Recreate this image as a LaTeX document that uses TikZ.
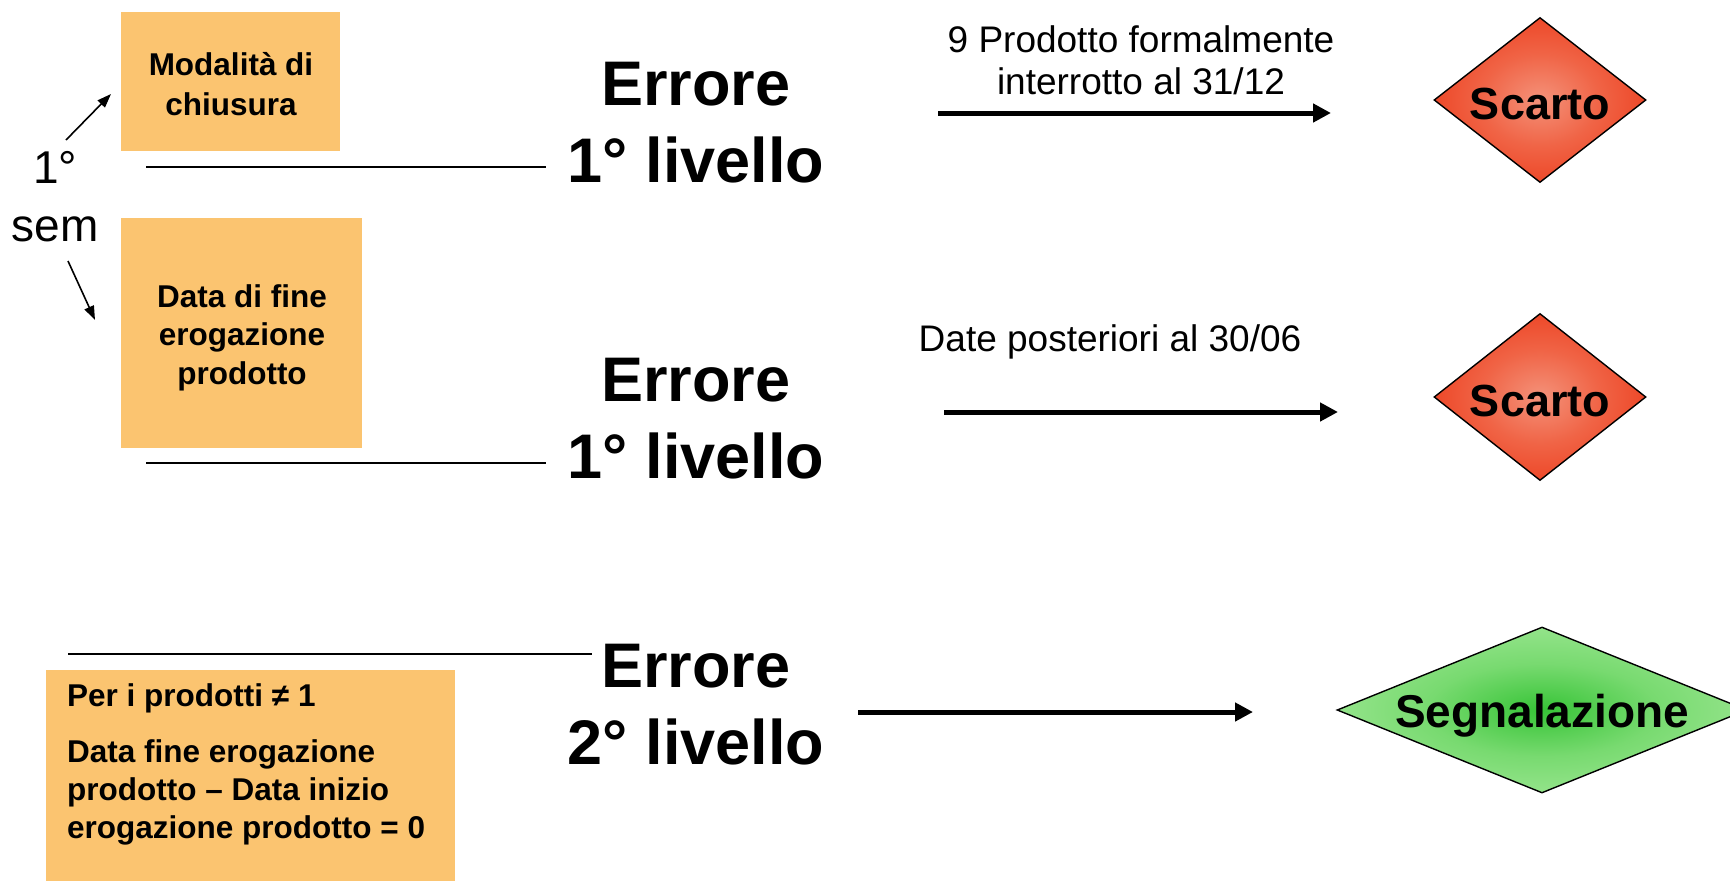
\documentclass[tikz,border=0pt]{standalone}
\usepackage{fontspec}
\setmainfont{Liberation Sans}
\usetikzlibrary{shapes.geometric,arrows.meta}
\definecolor{boxfill}{RGB}{251,196,112}
\definecolor{redin}{RGB}{244,146,122}
\definecolor{redmid}{RGB}{240,100,70}
\definecolor{redout}{RGB}{236,60,28}
\definecolor{grin}{RGB}{55,196,55}
\definecolor{grmid}{RGB}{120,218,112}
\definecolor{grout}{RGB}{155,230,145}
\pgfdeclareradialshading{redglow}{\pgfpoint{0bp}{0bp}}{color(0bp)=(redin); color(14bp)=(redmid); color(30bp)=(redout); color(50bp)=(redout)}
\pgfdeclareradialshading{greenglow}{\pgfpoint{0bp}{0bp}}{color(0bp)=(grin); color(14bp)=(grmid); color(28bp)=(grout); color(50bp)=(grout)}
\begin{document}
\begin{tikzpicture}[x=1pt,y=-1pt,
  notebox/.style={fill=boxfill, draw=none, inner sep=0pt},
  notetext/.style={inner sep=0pt, align=center, font=\bfseries\fontsize{31.5}{40}\selectfont},
  errtext/.style={inner sep=0pt, align=center, font=\bfseries\fontsize{63}{77}\selectfont},
  lbltext/.style={inner sep=0pt, align=center, font=\fontsize{37}{42}\selectfont},
  thinline/.style={line width=2pt},
  thinarrow/.style={line width=1.6pt, -{Triangle[length=14pt,width=10pt]}},
  fatarrow/.style={line width=5pt, -{Triangle[length=18pt,width=18pt]}},
  dia/.style={diamond, draw=black, line width=1.4pt, inner sep=0pt},
  diatext/.style={inner sep=0pt, font=\bfseries\fontsize{45}{50}\selectfont}
]
\useasboundingbox (0,0) rectangle (1730,881);
\clip (0,0) rectangle (1730,881);

% left boxes
\node[notebox, minimum width=219pt, minimum height=139pt] (b1) at (230.5,81.5) {};
\node[notetext] (b1t) at (231,84) {Modalità di\\chiusura};
\node[notebox, minimum width=241pt, minimum height=230pt] (b2) at (241.5,333) {};
\node[notetext, font=\bfseries\fontsize{31.5}{38.5}\selectfont] (b2t) at (242,337.5) {Data di fine\\erogazione\\prodotto};
\node[notebox, minimum width=409pt, minimum height=230pt] (b3) at (250.5,785) {};
\node[inner sep=0pt, anchor=north west, align=left, font=\bfseries\fontsize{31.5}{38}\selectfont] (b3t) at (67,683)
  {Per i prodotti ≠ 1\\[18pt]Data fine erogazione\\prodotto – Data inizio\\erogazione prodotto = 0};

% 1 sem
\node[inner sep=0pt, align=center, font=\fontsize{46}{58}\selectfont] (sem) at (55,197) {1°\\sem};
\coordinate (a1s) at (66,140);
\coordinate (a1e) at (111,94);
\coordinate (a2s) at (68,261);
\coordinate (a2e) at (95,320);
\draw[thinarrow] (a1s) -- (a1e);
\draw[thinarrow] (a2s) -- (a2e);

% thin lines
\coordinate (l1s) at (146,167); \coordinate (l1e) at (546,167);
\coordinate (l2s) at (146,463); \coordinate (l2e) at (546,463);
\coordinate (l3s) at (68,654);  \coordinate (l3e) at (592,654);
\draw[thinline] (l1s) -- (l1e);
\draw[thinline] (l2s) -- (l2e);
\draw[thinline] (l3s) -- (l3e);

% error texts
\node[errtext] (e1) at (696,123) {Errore\\1° livello};
\node[errtext] (e2) at (696,419) {Errore\\1° livello};
\node[errtext] (e3) at (696,705) {Errore\\2° livello};

% arrows and labels
\coordinate (f1s) at (938,113); \coordinate (f1e) at (1331,113);
\coordinate (f2s) at (944,412); \coordinate (f2e) at (1338,412);
\coordinate (f3s) at (858,712); \coordinate (f3e) at (1253,712);
\draw[fatarrow] (f1s) -- (f1e);
\draw[fatarrow] (f2s) -- (f2e);
\draw[fatarrow] (f3s) -- (f3e);
\node[lbltext] (t1) at (1141,60) {9 Prodotto formalmente\\interrotto al 31/12};
\node[lbltext] (t2) at (1110,342) {Date posteriori al 30/06};

% diamonds
\node[dia, shading=redglow, minimum width=212pt, minimum height=165pt] (d1) at (1540,100) {};
\node[diatext] (d1t) at ([yshift=-4pt]d1.center) {Scarto};
\node[dia, shading=redglow, minimum width=212pt, minimum height=167pt] (d2) at (1540,397) {};
\node[diatext] (d2t) at ([yshift=-4pt]d2.center) {Scarto};
\node[dia, shading=greenglow, minimum width=410pt, minimum height=166pt] (d3) at (1542,710) {};
\node[diatext, font=\bfseries\fontsize{46}{50}\selectfont] (d3t) at ([yshift=-6pt]d3.center) {Segnalazione};
\end{tikzpicture}
\end{document}
